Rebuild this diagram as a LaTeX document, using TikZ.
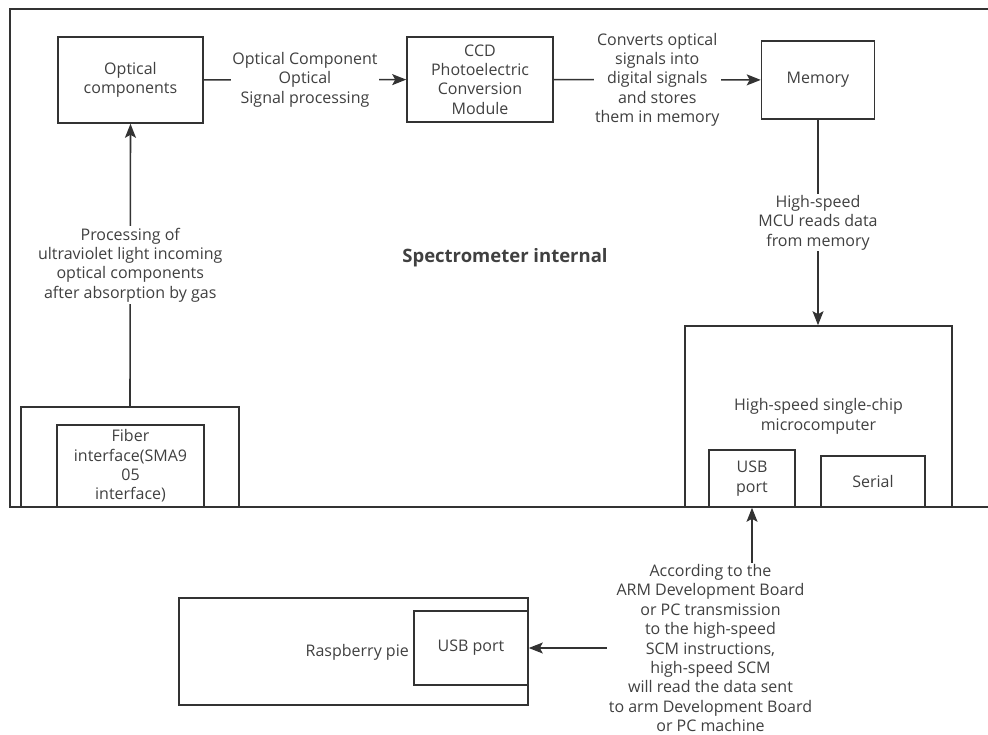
\documentclass[tikz,border=0pt]{standalone}
\usepackage{fontspec}
\setmainfont{Open Sans}
\usetikzlibrary{arrows.meta}

\definecolor{ink}{HTML}{333333}
\definecolor{txt}{HTML}{404040}

\begin{document}
\begin{tikzpicture}[x=1pt,y=-1pt,
    every node/.style={font=\fontsize{16}{19.4}\selectfont,text=txt},
    box/.style={draw=ink,line width=1.6pt,inner sep=0pt,align=center},
    lbl/.style={fill=white,inner sep=1.5pt,align=center},
    tip/.style={-{Stealth[length=14pt,width=11pt,inset=3pt]}},
    arr/.style={draw=ink,line width=1.6pt,tip},
    both/.style={arr,{Stealth[length=14pt,width=11pt,inset=3pt]}-{Stealth[length=14pt,width=11pt,inset=3pt]}}]
    \useasboundingbox (0,0) rectangle (988,735);
    \clip (0,0) rectangle (988,735);

    % spectrometer
    \node[box,minimum width=990pt,minimum height=498pt,
      font=\fontsize{18.5}{22}\selectfont\bfseries] (frame) at (505,258) {Spectrometer internal};
    \node[box,minimum width=145pt,minimum height=86pt] (opt) at (130.5,80) {Optical\\components};
    \node[box,minimum width=146pt,minimum height=85pt] (ccd) at (480,79.5) {CCD\\Photoelectric\\Conversion\\Module};
    \node[box,minimum width=113pt,minimum height=78pt] (mem) at (818,80) {Memory};

    % fiber
    \node[box,minimum width=218pt,minimum height=100pt] (fibo) at (130,457) {};
    \node[box,minimum width=147pt,minimum height=82pt] (fibi) at (130.5,466) {Fiber\\interface(SMA9\\05\\interface)};

    % mcu
    \node[box,minimum width=267pt,minimum height=181pt] (mcu) at (818.5,416.5) {High-speed single-chip\\microcomputer};
    \node[box,minimum width=86pt,minimum height=57pt] (usbm) at (752,478.5) {USB\\port};
    \node[box,minimum width=104pt,minimum height=51pt] (serial) at (873,481.5) {Serial};

    % raspberry
    \node[box,minimum width=349pt,minimum height=107pt] (rpi) at (353.5,651.5) {};
    \node[box,minimum width=114pt,minimum height=74pt] (usbr) at (471,648) {USB port};
    \node[anchor=east,inner sep=0pt] (rpitxt) at (409,652) {Raspberry pie};

    \draw[arr] (opt) -- (ccd) node[lbl,midway] {Optical Component\\Optical\\Signal processing};
    \draw[arr] (ccd) -- (mem) node[lbl,midway] {Converts optical\\signals into\\digital signals\\and stores\\them in memory};
    \draw[arr] (mem.south) -- (mem.south |- mcu.north) node[lbl,midway] {High-speed\\MCU reads data\\from memory};
    \draw[arr] (fibo.north) -- (opt.south) node[lbl,midway] {Processing of\\ultraviolet light incoming\\optical components\\after absorption by gas};
    \draw[both] (usbm.south) |- (usbr.east) node[lbl,pos=0.593] {According to the\\ARM Development Board\\or PC transmission\\to the high-speed\\SCM instructions,\\high-speed SCM\\will read the data sent\\to arm Development Board\\or PC machine};
\end{tikzpicture}
\end{document}
